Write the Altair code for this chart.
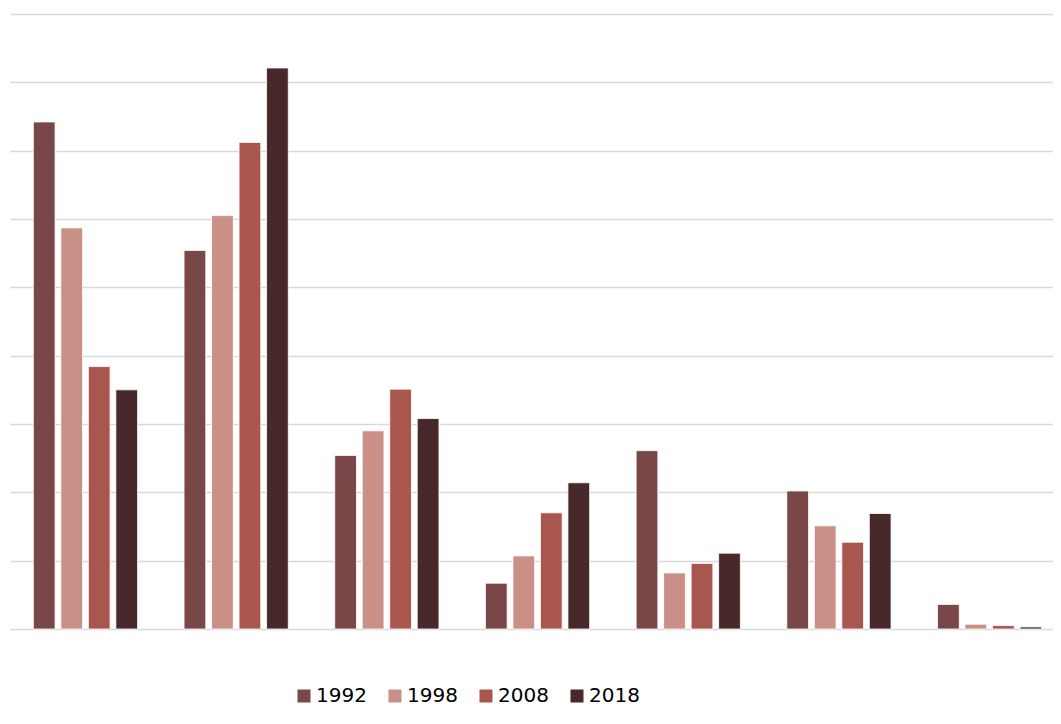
import altair as alt
import pandas as pd

groups = ["G1", "G2", "G3", "G4", "G5", "G6", "G7"]
years = ["1992", "1998", "2008", "2018"]
v1992 = [37.1, 27.7, 12.7, 3.35, 13.05, 10.1, 1.8]
v1998 = [29.35, 30.25, 14.5, 5.35, 4.1, 7.55, 0.35]
v2008 = [19.2, 35.6, 17.55, 8.5, 4.8, 6.35, 0.25]
v2018 = [17.5, 41.05, 15.4, 10.7, 5.55, 8.45, 0.15]
colors = ["#7a4749", "#ca8f87", "#a9574e", "#48292b"]

series = {"1992": v1992, "1998": v1998, "2008": v2008, "2018": v2018}
rows = []
for y in years:
    for g, v in zip(groups, series[y]):
        rows.append({"group": g, "year": y, "value": v})
df = pd.DataFrame(rows)

chart = alt.Chart(df).mark_bar(stroke="white", strokeWidth=0.8).encode(
    x=alt.X("group:N", sort=groups, axis=None,
            scale=alt.Scale(paddingInner=0.27, paddingOuter=0.0956, align=0.71)),
    xOffset=alt.XOffset("year:N", sort=years,
                        scale=alt.Scale(paddingInner=0.21, paddingOuter=0.105)),
    y=alt.Y("value:Q", scale=alt.Scale(domain=[0, 45], nice=False),
            axis=alt.Axis(values=[0, 5, 10, 15, 20, 25, 30, 35, 40, 45],
                          labels=False, ticks=False, domain=False, title=None,
                          grid=True, gridColor="#d9d9d9", gridWidth=1.6)),
    color=alt.Color("year:N", sort=years,
                    scale=alt.Scale(domain=years, range=colors),
                    legend=alt.Legend(orient="none", legendX=284, legendY=672,
                                      direction="horizontal", title=None,
                                      symbolType="square", symbolSize=169,
                                      symbolStrokeWidth=0, labelOffset=2,
                                      columnPadding=18, labelFontSize=20,
                                      labelFont="DejaVu Sans", labelColor="#000000")),
).properties(
    width=1043, height=615,
    autosize=alt.AutoSizeParams(type="none"),
    padding={"left": 2, "top": 6, "right": 0, "bottom": 82},
).configure_view(stroke=None)

chart.save("out.html", embed_options={"renderer": "svg", "actions": False})
